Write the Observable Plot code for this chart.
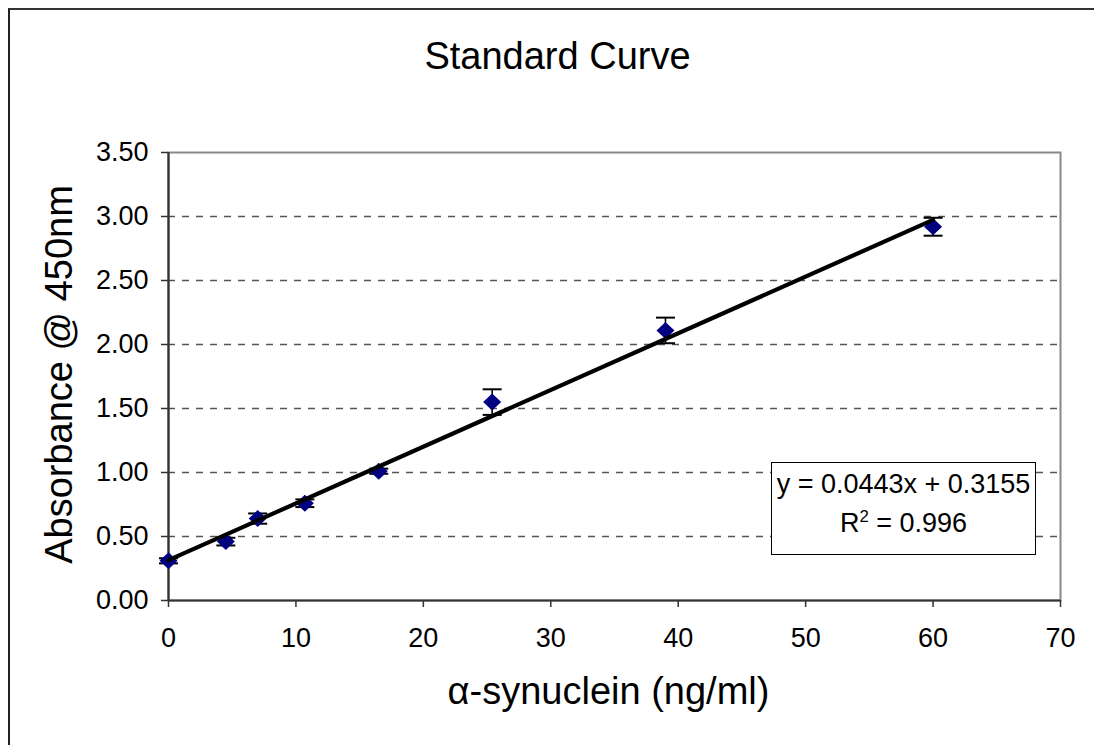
<!DOCTYPE html>
<html>
<head>
<meta charset="utf-8">
<script src="https://cdn.jsdelivr.net/npm/d3@7"></script>
<script src="https://cdn.jsdelivr.net/npm/@observablehq/plot@0.6"></script>
<style>
  html, body { margin: 0; padding: 0; background: #fff; overflow: hidden; }
  #wrap { position: relative; width: 1094px; height: 745px; font-family: "Liberation Sans", Arial, sans-serif; }
  #wrap svg { position: absolute; left: 0; top: 0; }
  #frame { position: absolute; left: 8px; top: 8px; width: 1200px; height: 900px; border-left: 2px solid #222; border-top: 2px solid #333; pointer-events: none; }
  #eq { position: absolute; left: 771px; top: 462px; width: 265px; height: 93px; box-sizing: border-box; border: 1px solid #000; background: #fff; text-align: center; font-size: 27px; line-height: 39px; padding-top: 2px; color: #000; }
</style>
</head>
<body>
<div id="wrap"></div>
<script>
// ---- data ----
const concentration = [0, 4.5, 7.0, 10.7, 16.5, 25.4, 39.0, 60.0];   // α-synuclein (ng/ml)
const absorbance    = [0.31, 0.46, 0.64, 0.76, 1.01, 1.55, 2.11, 2.92]; // A450
const errorBar      = [0.02, 0.03, 0.04, 0.03, 0.02, 0.10, 0.10, 0.07];
const trendX = [0, 60];
const trendY = [0.3155, 2.9735];
const xTicks = [0, 10, 20, 30, 40, 50, 60, 70];
const yTicks = [0, 0.5, 1.0, 1.5, 2.0, 2.5, 3.0, 3.5];
const gridVals = [0.5, 1.0, 1.5, 2.0, 2.5, 3.0];
const titleText = "Standard Curve";
const xLabel = "α-synuclein (ng/ml)";
const yLabel = "Absorbance @ 450nm";
const eqLine1 = "y = 0.0443x + 0.3155";
const eqLine2 = "R<sup style='font-size:0.62em;vertical-align:0.62em;line-height:0'>2</sup> = 0.996";

const points = concentration.map((x, i) => ({x, y: absorbance[i], e: errorBar[i]}));
const trend = trendX.map((x, i) => ({x, y: trendY[i]}));

const diamond = { draw(ctx, size) { const r = Math.sqrt(size / Math.PI); ctx.moveTo(0, -r); ctx.lineTo(r * 1.06, 0); ctx.lineTo(0, r); ctx.lineTo(-r * 1.06, 0); ctx.closePath(); } };
const cap = { draw(ctx, size) { const r = Math.sqrt(size / Math.PI); ctx.moveTo(-r, 0); ctx.lineTo(r, 0); } };

const plot = Plot.plot({
  width: 1094,
  height: 745,
  marginLeft: 168,
  marginRight: 34,
  marginTop: 152,
  marginBottom: 145,
  style: { fontFamily: "'Liberation Sans', Arial, sans-serif", fontSize: "27px", color: "#000", background: "transparent" },
  x: { domain: [0, 70] },
  y: { domain: [0, 3.5] },
  marks: [
    Plot.frame({ stroke: "#888", strokeWidth: 2 }),
    Plot.gridY({ ticks: gridVals, stroke: "#555", strokeOpacity: 1, strokeWidth: 1.4, strokeDasharray: "7,7" }),
    Plot.axisY({ ticks: yTicks, tickFormat: d3.format(".2f"), tickSize: 7, tickPadding: 13, stroke: "#333", strokeWidth: 1.5, fontSize: 27, label: null }),
    Plot.axisX({ ticks: xTicks, tickFormat: d3.format("d"), tickSize: 7, tickPadding: 20, stroke: "#333", strokeWidth: 1.5, fontSize: 27, label: null }),
    Plot.ruleX([0], { stroke: "#333", strokeWidth: 2.2 }),
    Plot.ruleY([0], { stroke: "#333", strokeWidth: 2.2 }),
    Plot.ruleX(points, { x: "x", y1: d => d.y - d.e, y2: d => d.y + d.e, stroke: "#000", strokeWidth: 1.6 }),
    Plot.dot(points, { x: "x", y: d => d.y + d.e, symbol: cap, r: 9.5, fill: "none", stroke: "#000", strokeWidth: 2 }),
    Plot.dot(points, { x: "x", y: d => d.y - d.e, symbol: cap, r: 9.5, fill: "none", stroke: "#000", strokeWidth: 2 }),
    Plot.dot(points, { x: "x", y: "y", symbol: diamond, r: 8.5, fill: "#000080", stroke: "none" }),
    Plot.line(trend, { x: "x", y: "y", stroke: "#000", strokeWidth: 4.2 }),
    Plot.text([titleText], { frameAnchor: "top", dx: -57, dy: -84, lineAnchor: "bottom", fontSize: 38, fill: "#000" }),
    Plot.text([yLabel], { frameAnchor: "left", textAnchor: "middle", rotate: -90, dx: -109, dy: -2, lineAnchor: "middle", fontSize: 38, fill: "#000" }),
    Plot.text([xLabel], { frameAnchor: "bottom", dx: -6, dy: 103, lineAnchor: "bottom", fontSize: 38, fill: "#000" })
  ]
});

const wrap = document.getElementById("wrap");
wrap.appendChild(plot);
const frame = document.createElement("div");
frame.id = "frame";
wrap.appendChild(frame);
const eq = document.createElement("div");
eq.id = "eq";
eq.innerHTML = "<div>" + eqLine1 + "</div><div>" + eqLine2 + "</div>";
wrap.appendChild(eq);
</script>
</body>
</html>
